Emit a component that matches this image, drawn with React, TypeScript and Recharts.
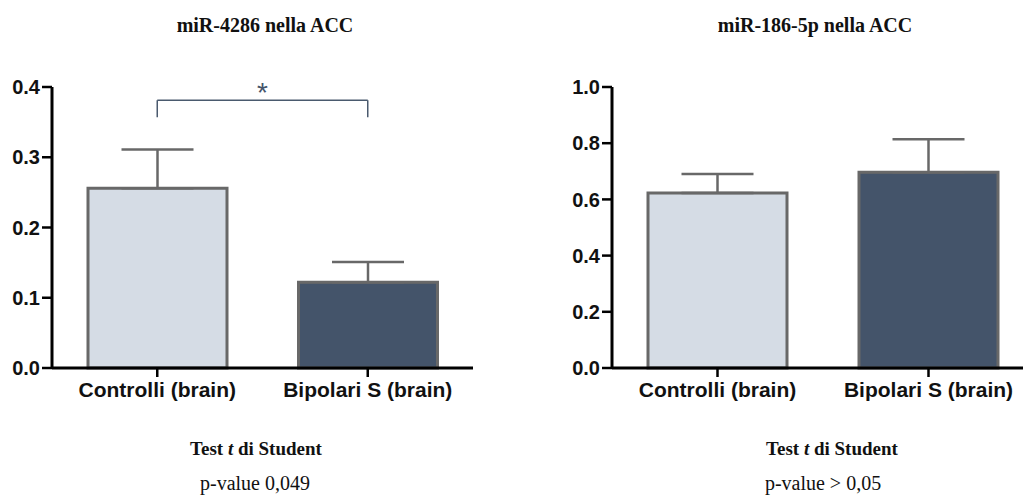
import { Bar, BarChart, Cell, ErrorBar, ReferenceLine, XAxis, YAxis } from "recharts";

const groups = ["Controlli (brain)", "Bipolari S (brain)"];
const mir4286Values = [0.256, 0.122];
const mir4286Errors = [0.055, 0.029];
const mir186Values = [0.623, 0.697];
const mir186Errors = [0.067, 0.117];
const mir4286Ticks = [0, 0.1, 0.2, 0.3, 0.4];
const mir186Ticks = [0, 0.2, 0.4, 0.6, 0.8, 1.0];
const bracketY = 0.381;
const bracketLegY = 0.357;
const barColors = ["#d5dce5", "#44546a"];

const sans = '"Liberation Sans", Arial, sans-serif';
const serif = '"Liberation Serif", "Times New Roman", serif';

const makeData = (values: number[], errors: number[]) =>
  groups.map((g, i) => ({ group: g, value: values[i], err: [0, errors[i]] }));

const axisLine = { stroke: "#000", strokeWidth: 3 };
const tickLine = { stroke: "#000", strokeWidth: 2.5 };
const tickText = { fill: "#111", fontSize: 20, fontWeight: 700, fontFamily: sans };
const catText = { fill: "#111", fontSize: 21, fontWeight: 700, fontFamily: sans };

type PanelProps = {
  values: number[];
  errors: number[];
  ticks: number[];
  max: number;
  width: number;
  yWidth: number;
  right: number;
  bracket?: boolean;
};

function Panel({ values, errors, ticks, max, width, yWidth, right, bracket }: PanelProps) {
  return (
    <BarChart
      width={width}
      height={420}
      data={makeData(values, errors)}
      margin={{ top: 87, right, left: 0, bottom: 0 }}
    >
      <XAxis
        dataKey="group"
        type="category"
        interval={0}
        height={52}
        tickSize={9}
        tickMargin={5}
        axisLine={axisLine}
        tickLine={tickLine}
        tick={catText}
      />
      <YAxis
        type="number"
        domain={[0, max]}
        ticks={ticks}
        width={yWidth}
        tickSize={10}
        tickMargin={2}
        tickFormatter={(v: number) => v.toFixed(1)}
        axisLine={axisLine}
        tickLine={tickLine}
        tick={tickText}
      />
      <Bar dataKey="value" barSize={139} stroke="#686868" strokeWidth={3} isAnimationActive={false}>
        {groups.map((g, i) => (
          <Cell key={g} fill={barColors[i]} />
        ))}
        <ErrorBar dataKey="err" width={36} stroke="#686868" strokeWidth={2.5} direction="y" />
      </Bar>
      {bracket && (
        <ReferenceLine
          segment={[
            { x: groups[0], y: bracketY },
            { x: groups[1], y: bracketY },
          ]}
          stroke="#4a5a6e"
          strokeWidth={1.5}
          label={{ value: "*", position: "top", offset: -2, fill: "#44546a", fontSize: 28, fontFamily: sans }}
        />
      )}
      {bracket &&
        groups.map((g) => (
          <ReferenceLine
            key={g}
            segment={[
              { x: g, y: bracketY },
              { x: g, y: bracketLegY },
            ]}
            stroke="#4a5a6e"
            strokeWidth={1.5}
          />
        ))}
    </BarChart>
  );
}

function Caption({ cx, top, size, bold, children }: any) {
  return (
    <div
      style={{
        position: "absolute",
        left: cx - 150,
        width: 300,
        top,
        textAlign: "center",
        fontFamily: serif,
        fontWeight: bold ? 700 : 400,
        fontSize: size,
        lineHeight: `${size}px`,
        color: "#111",
        whiteSpace: "nowrap",
      }}
    >
      {children}
    </div>
  );
}

export default function App() {
  return (
    <div
      style={{
        position: "absolute",
        left: 0,
        top: 0,
        width: 1023,
        height: 499,
        overflow: "hidden",
        background: "#fff",
      }}
    >
      <Caption cx={265} top={15} size={20} bold>
        miR-4286 nella ACC
      </Caption>
      <Caption cx={815} top={15} size={20} bold>
        miR-186-5p nella ACC
      </Caption>

      <div style={{ position: "absolute", left: 0, top: 0 }}>
        <Panel
          values={mir4286Values}
          errors={mir4286Errors}
          ticks={mir4286Ticks}
          max={0.4}
          width={480}
          yWidth={52}
          right={7}
          bracket
        />
      </div>
      <div style={{ position: "absolute", left: 540, top: 0 }}>
        <Panel
          values={mir186Values}
          errors={mir186Errors}
          ticks={mir186Ticks}
          max={1.0}
          width={500}
          yWidth={72}
          right={6}
        />
      </div>

      <Caption cx={256} top={439} size={19} bold>
        Test <i>t</i> di Student
      </Caption>
      <Caption cx={255} top={473} size={20}>
        p-value 0,049
      </Caption>
      <Caption cx={832} top={439} size={19} bold>
        Test <i>t</i> di Student
      </Caption>
      <Caption cx={823} top={473} size={20}>
        p-value &gt; 0,05
      </Caption>
    </div>
  );
}
